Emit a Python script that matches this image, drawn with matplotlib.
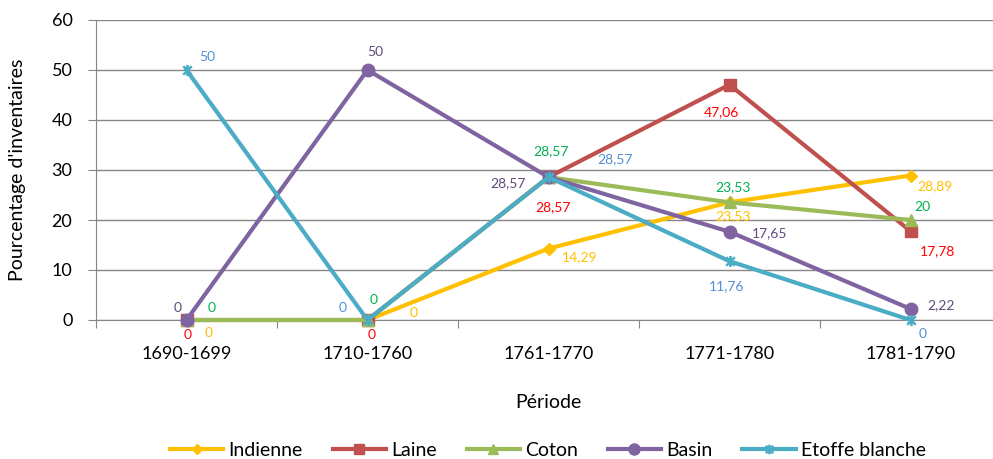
import matplotlib
matplotlib.use("Agg")
import matplotlib.pyplot as plt
from matplotlib.lines import Line2D
from matplotlib.path import Path

plt.rcParams['font.family'] = ['Lato', 'DejaVu Sans']

periods = ["1690-1699", "1710-1760", "1761-1770", "1771-1780", "1781-1790"]
series_names = ["Indienne", "Laine", "Coton", "Basin", "Etoffe blanche"]
indienne = [0, 0, 14.29, 23.53, 28.89]
laine = [0, 0, 28.57, 47.06, 17.78]
coton = [0, 0, 28.57, 23.53, 20]
basin = [0, 50, 28.57, 17.65, 2.22]
etoffe = [50, 0, 28.57, 11.76, 0]
yticks = [0, 10, 20, 30, 40, 50, 60]

line_colors = ["#FFC000", "#C0504D", "#9BBB59", "#8064A2", "#4BACC6"]
label_colors = ["#FFC000", "#FF0000", "#00B050", "#604A7B", "#558ED5"]
star = Path([(-1, -1), (1, 1), (-1, 1), (1, -1), (0, -1.3), (0, 1.3)],
            [Path.MOVETO, Path.LINETO, Path.MOVETO, Path.LINETO, Path.MOVETO, Path.LINETO])
markers = ["D", "s", "^", "o", star]
msizes = [6, 8, 8, 9, 8]
mews = [1, 1, 1, 1, 1.8]
data = [indienne, laine, coton, basin, etoffe]

# label offsets in pixels (dx, dy with y up)
offsets = [
    [(22, -13), (46, 7), (31, -9), (3, -14), (24, -11)],
    [(1, -15), (4, -15), (4, -30), (-8, -27), (27, -20)],
    [(25, 12), (6, 20), (2, 26), (3, 15), (12, 13)],
    [(-9, 12), (8, 18), (-41, -6), (40, -1), (31, 4)],
    [(21, 13), (-25, 12), (66, 18), (-3, -25), (12, -14)],
]

fig = plt.figure(figsize=(9.93, 4.59), dpi=100)
W, H = 993, 459
ax = fig.add_axes([96 / W, 1 - 320 / H, 905 / W, 300 / H])

x = list(range(len(periods)))
for i, vals in enumerate(data):
    ax.plot(x, vals, color=line_colors[i], lw=3, marker=markers[i], ms=msizes[i],
            mew=mews[i], mec=line_colors[i], mfc=line_colors[i],
            zorder=3 + i, clip_on=False)
    for j, v in enumerate(vals):
        dx, dy = offsets[i][j]
        ax.annotate(f"{v:g}".replace(".", ","), (x[j], v), xytext=(dx, dy),
                    textcoords="offset pixels", ha="center", va="center",
                    fontsize=10, color=label_colors[i], zorder=10)

ax.set_xlim(-0.5, len(periods) - 0.5)
ax.set_ylim(0, 60)
ax.set_yticks(yticks)
ax.set_yticklabels([str(t) for t in yticks], fontsize=13)
ax.grid(axis="y", color="#868686", lw=1)
ax.set_axisbelow(True)
for s in ["top", "right"]:
    ax.spines[s].set_visible(False)
ax.spines["left"].set_color("#868686")
ax.spines["bottom"].set_color("#868686")
ax.tick_params(axis="y", length=6, color="#868686", pad=11)
ax.set_xticks([k + 0.5 for k in range(-1, len(periods))])
ax.set_xticklabels([])
ax.set_xticks(x, minor=True)
ax.set_xticklabels(periods, minor=True, fontsize=13)
ax.tick_params(axis="x", which="major", length=6, color="#868686")
ax.tick_params(axis="x", which="minor", length=0, pad=19)

fig.text(18 / W, 1 - 170 / H, "Pourcentage d'inventaires", rotation=90,
         ha="center", va="center", fontsize=14)
fig.text(548 / W, 1 - 402 / H, "Période", ha="center", va="center", fontsize=14)

handles = [Line2D([0], [0], color=line_colors[i], lw=3, marker=markers[i],
                  ms=msizes[i] - 1, mew=mews[i],
                  mec=line_colors[i], mfc=line_colors[i])
           for i in range(len(series_names))]
fig.legend(handles, series_names, loc="center", bbox_to_anchor=(548 / W, 1 - 450 / H),
           ncol=5, frameon=False, fontsize=14, handlelength=2.73, columnspacing=1.55,
           handletextpad=0.26, borderpad=0, borderaxespad=0)

fig.savefig("out.png", dpi=100)
